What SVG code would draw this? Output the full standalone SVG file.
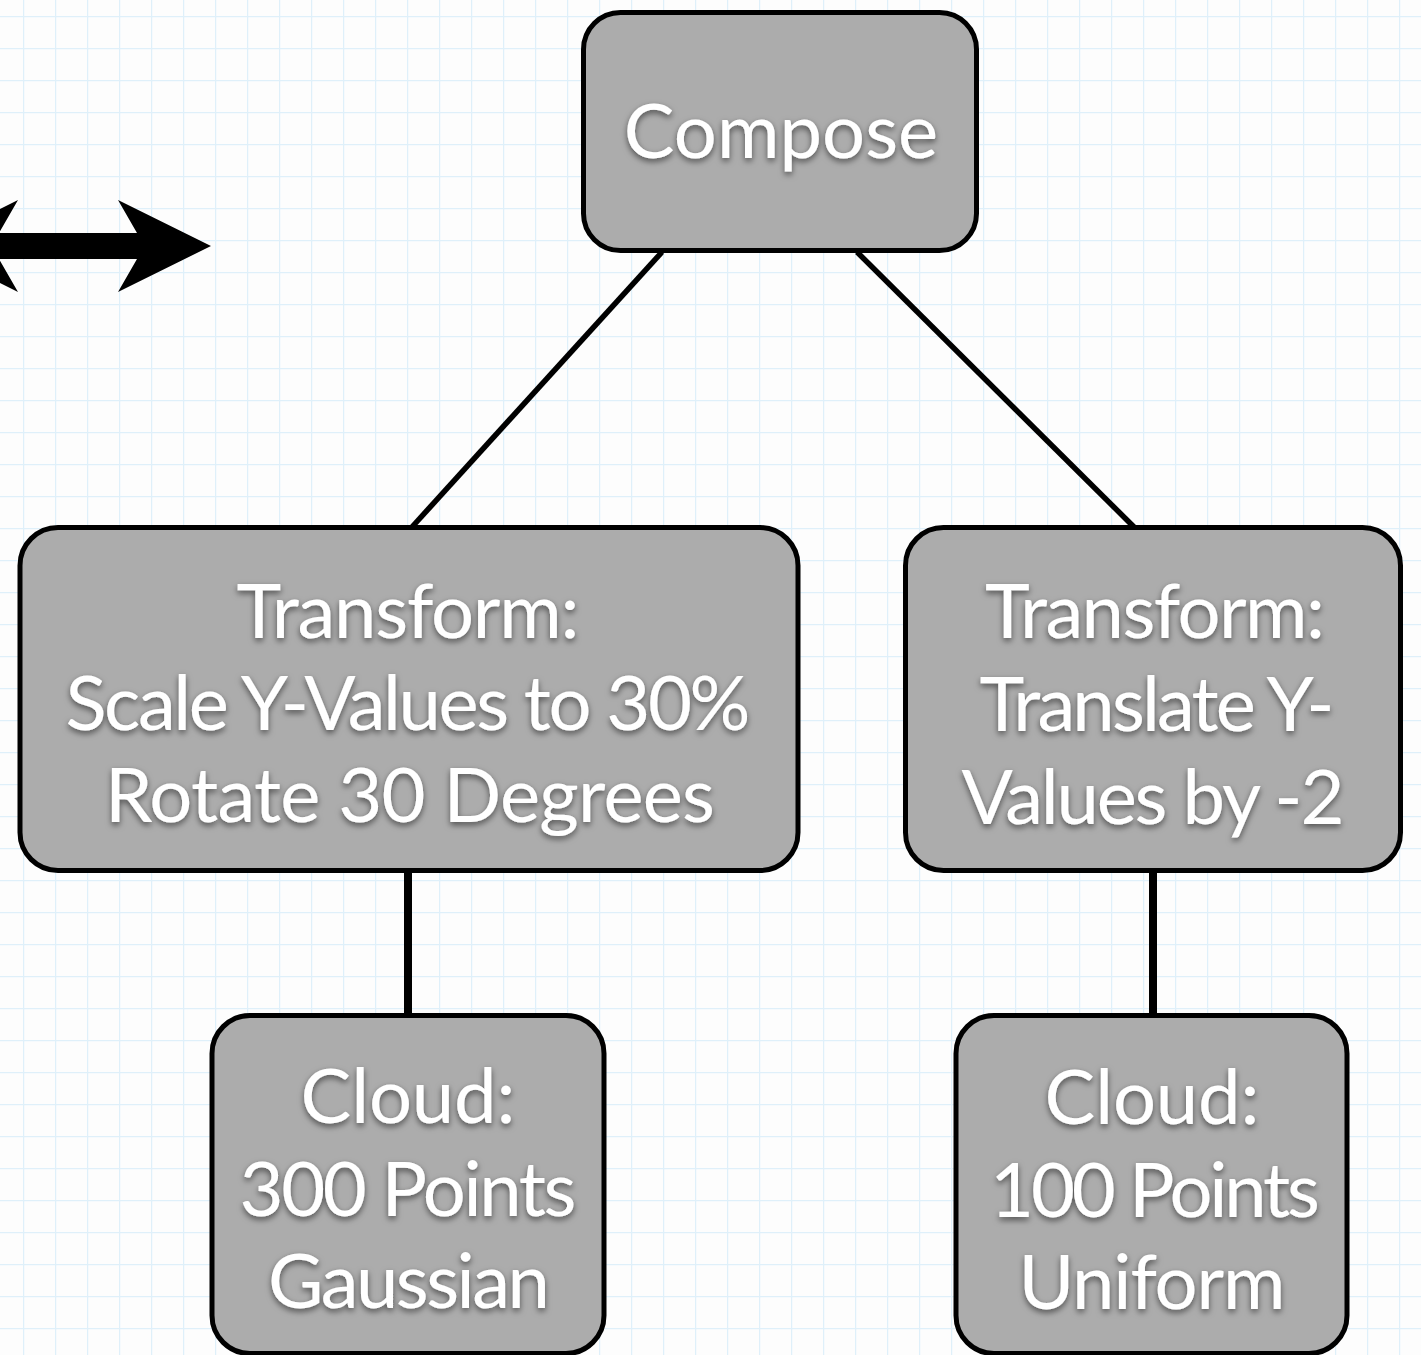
<svg xmlns="http://www.w3.org/2000/svg" width="1421" height="1355" viewBox="0 0 1421 1355">
  <defs>
    <pattern id="grid" x="23" y="16" width="32" height="32" patternUnits="userSpaceOnUse">
      <path d="M0 0 H32 M0 0 V32" fill="none" stroke="#dff0fa" stroke-width="2.5"/>
    </pattern>
    <filter id="textShadow" x="-10%" y="-20%" width="120%" height="150%">
      <feDropShadow dx="0" dy="3" stdDeviation="3" flood-color="#000" flood-opacity="0.55"/>
    </filter>
    <style>
      .box { fill: #acacac; stroke: #000; stroke-width: 5; }
      .label { fill: #fff; font-family: "Gill Sans", Lato, "Noto Sans", sans-serif; font-size: 76px; text-anchor: middle; filter: url(#textShadow); }
      .edge { stroke: #000; stroke-width: 5.5; fill: none; }
      .edge-v { stroke: #000; stroke-width: 8; fill: none; }
    </style>
  </defs>

  <!-- graph-paper background -->
  <rect width="1421" height="1355" fill="#fdfdfd"/>
  <rect width="1421" height="1355" fill="url(#grid)"/>

  <!-- double-headed arrow, partly off the left edge -->
  <polygon id="double-arrow" fill="#000" points="-75,246 18,200 -1,233 137,233 118,200 211,246 118,292 137,259 -1,259 18,292"/>

  <!-- connectors -->
  <g id="connectors">
    <line class="edge" x1="662" y1="252" x2="412" y2="527"/>
    <line class="edge" x1="857" y1="252" x2="1134" y2="527"/>
    <line class="edge-v" x1="408" y1="871" x2="408" y2="1015"/>
    <line class="edge-v" x1="1153" y1="871" x2="1153" y2="1015"/>
  </g>

  <g id="node-compose">
    <rect class="box" x="583.5" y="12.5" width="393" height="238" rx="37"/>
    <text class="label" x="781" y="158">Compose</text>
  </g>

  <g id="node-transform-left">
    <rect class="box" x="20" y="527.5" width="778" height="343" rx="38"/>
    <text class="label" x="408" y="638" textLength="343">Transform:</text>
    <text class="label" x="408" y="730" textLength="685">Scale Y-Values to 30%</text>
    <text class="label" x="410" y="822" textLength="610">Rotate 30 Degrees</text>
  </g>

  <g id="node-transform-right">
    <rect class="box" x="905.5" y="527.5" width="495" height="343" rx="38"/>
    <text class="label" x="1155" y="638" textLength="340">Transform:</text>
    <text class="label" x="1157" y="731" textLength="355">Translate Y-</text>
    <text class="label" x="1153" y="824" textLength="383">Values by -2</text>
  </g>

  <g id="node-cloud-left">
    <rect class="box" x="212" y="1015.5" width="392" height="338" rx="38"/>
    <text class="label" x="408" y="1123" textLength="215">Cloud:</text>
    <text class="label" x="408" y="1216" textLength="337">300 Points</text>
    <text class="label" x="409" y="1308" textLength="282">Gaussian</text>
  </g>

  <g id="node-cloud-right">
    <rect class="box" x="956" y="1015.5" width="391" height="338" rx="38"/>
    <text class="label" x="1152" y="1124" textLength="215">Cloud:</text>
    <text class="label" x="1155" y="1217" textLength="330">100 Points</text>
    <text class="label" x="1152" y="1309" textLength="267">Uniform</text>
  </g>
</svg>
